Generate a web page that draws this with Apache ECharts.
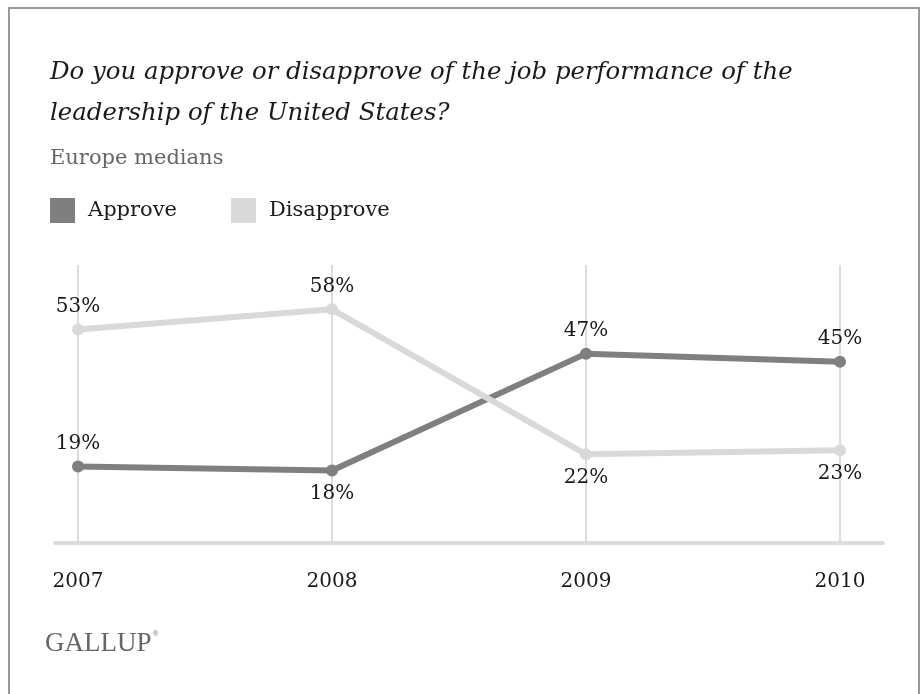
<!DOCTYPE html>
<html>
<head>
<meta charset="utf-8">
<script src="https://cdn.jsdelivr.net/npm/echarts@6/dist/echarts.min.js"></script>
<style>
html,body{margin:0;padding:0;background:#fff;}
#frame{position:absolute;left:8px;top:7px;width:912px;height:700px;border:2px solid #9a9a9a;border-bottom:none;box-sizing:border-box;}
#chart{position:absolute;left:0;top:0;width:923px;height:694px;}
</style>
</head>
<body>
<div id="frame"></div>
<div id="chart"></div>
<script>
var years = ['2007', '2008', '2009', '2010'];
var approve = [19, 18, 47, 45];
var disapprove = [53, 58, 22, 23];
var approveLabelPos = ['top', 'bottom', 'top', 'top'];
var disapproveLabelPos = ['top', 'top', 'bottom', 'bottom'];

var serif = '"DejaVu Serif", "Liberation Serif", serif';
var tserif = '"Liberation Serif", serif';
var chart = echarts.init(document.getElementById('chart'));

function mkData(vals, pos) {
  return vals.map(function (v, i) {
    return { value: v, label: { position: pos[i] } };
  });
}

chart.setOption({
  backgroundColor: 'transparent',
  animation: false,
  title: [
    {
      text: 'Do you approve or disapprove of the job performance of the\nleadership of the United States?',
      left: 50, top: 52, padding: 0,
      textStyle: { fontFamily: serif, fontStyle: 'italic', fontWeight: 'normal', fontSize: 24.4, lineHeight: 41, color: '#1a1a1a' }
    },
    {
      text: 'Europe medians',
      left: 50, top: 148, padding: 0,
      textStyle: { fontFamily: serif, fontWeight: 'normal', fontSize: 21, color: '#666666' }
    },
    {
      text: '{g|GALLUP}{r|®}',
      left: 45, top: 630, padding: 0,
      textStyle: {
        fontWeight: 'normal',
        rich: {
          g: { fontFamily: tserif, fontWeight: 'normal', fontSize: 27, color: '#666666' },
          r: { fontFamily: tserif, fontWeight: 'normal', fontSize: 8, color: '#666666', verticalAlign: 'top', padding: [0, 0, 14, 1] }
        }
      }
    }
  ],
  legend: {
    left: 50, top: 198, padding: 0,
    icon: 'rect',
    itemWidth: 25, itemHeight: 25,
    itemGap: 54,
    textStyle: { fontFamily: serif, fontSize: 21, color: '#1a1a1a', padding: [0, 0, 0, 8] },
    data: ['Approve', 'Disapprove']
  },
  grid: [
    { left: 78, right: 83, top: 265, bottom: 151 },
    { left: 55, right: 40, top: 265, bottom: 151 }
  ],
  xAxis: [
    {
      type: 'category', gridIndex: 0, data: years, boundaryGap: false,
      axisLine: { show: false }, axisTick: { show: false },
      axisLabel: { fontFamily: serif, fontSize: 20, color: '#1a1a1a', margin: 29 },
      splitLine: { show: true, lineStyle: { color: '#dcdcdc', width: 2 } }
    },
    {
      type: 'value', gridIndex: 1, min: 0, max: 1,
      axisLine: { show: true, onZero: false, lineStyle: { color: '#dcdcd8', width: 4 } },
      axisTick: { show: false }, axisLabel: { show: false }, splitLine: { show: false }
    }
  ],
  yAxis: [
    { type: 'value', gridIndex: 0, min: 0, max: 69, show: false, splitLine: { show: false } },
    { type: 'value', gridIndex: 1, min: 0, max: 1, show: false, splitLine: { show: false } }
  ],
  series: [
    {
      name: 'Approve', type: 'line', xAxisIndex: 0, yAxisIndex: 0,
      data: mkData(approve, approveLabelPos),
      symbol: 'circle', symbolSize: 12,
      lineStyle: { color: '#7f7f7f', width: 6 },
      itemStyle: { color: '#7f7f7f' },
      label: { show: true, formatter: '{c}%', distance: 7, fontFamily: serif, fontSize: 20, color: '#1a1a1a' }
    },
    {
      name: 'Disapprove', type: 'line', xAxisIndex: 0, yAxisIndex: 0,
      data: mkData(disapprove, disapproveLabelPos),
      symbol: 'circle', symbolSize: 12,
      lineStyle: { color: '#d9d9d9', width: 6 },
      itemStyle: { color: '#d9d9d9' },
      label: { show: true, formatter: '{c}%', distance: 7, fontFamily: serif, fontSize: 20, color: '#1a1a1a' }
    }
  ]
});
</script>
</body>
</html>
